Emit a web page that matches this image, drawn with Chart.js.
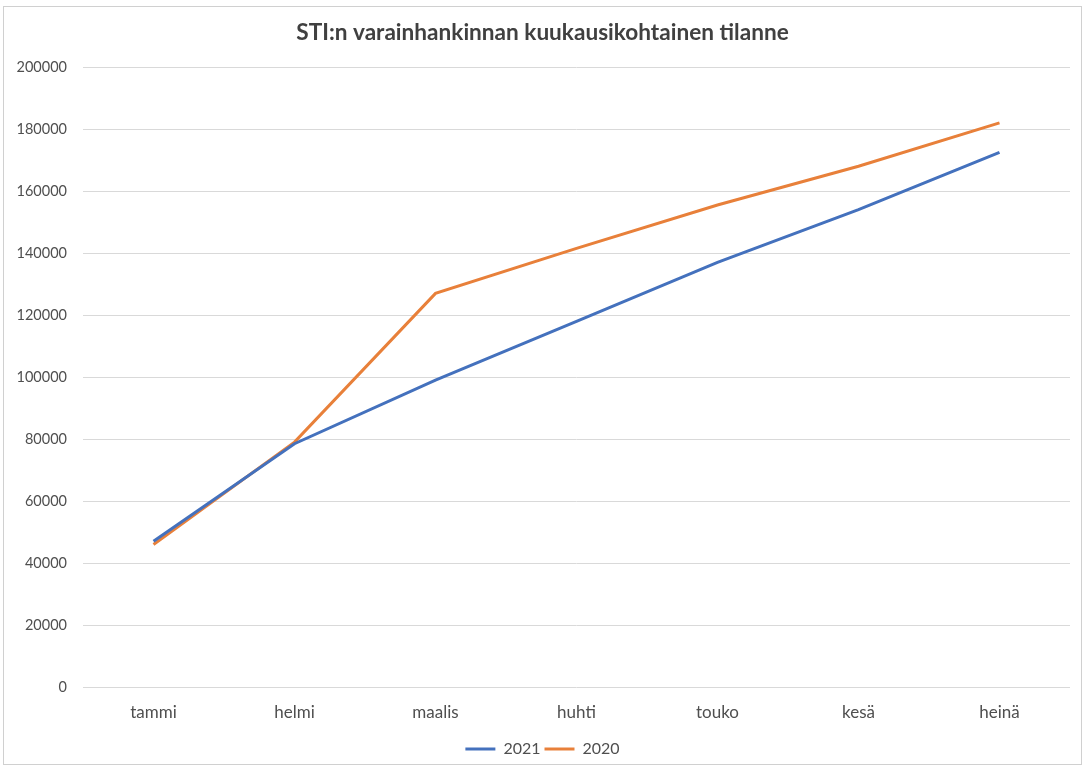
<!DOCTYPE html>
<html>
<head>
<meta charset="utf-8">
<script src="https://cdn.jsdelivr.net/npm/chart.js@4"></script>
<style>
  html, body { margin: 0; padding: 0; background: #fff; }
  #wrap { position: absolute; left: 3px; top: 6px; width: 1079px; height: 759px; border: 1px solid #d0d0d0; box-sizing: border-box; overflow: hidden; }
  canvas { display: block; }
</style>
</head>
<body>
<div id="wrap"><canvas id="c" width="1077" height="757"></canvas></div>
<script>
const categories = ["tammi", "helmi", "maalis", "huhti", "touko", "kesä", "heinä"];
const series2021 = [47000, 78500, 99000, 118000, 137000, 154000, 172500];
const series2020 = [46000, 79000, 127000, 141500, 155500, 168000, 182000];
const yTicks = [0, 20000, 40000, 60000, 80000, 100000, 120000, 140000, 160000, 180000, 200000];
const titleText = "STI:n varainhankinnan kuukausikohtainen tilanne";

const textColor = "#4f4f4f";
const font = "Lato, 'Open Sans', sans-serif";

new Chart(document.getElementById("c"), {
  type: "line",
  data: {
    labels: categories,
    datasets: [
      { label: "2021", data: series2021, borderColor: "#4471BD", backgroundColor: "#4471BD", borderWidth: 3, pointRadius: 0, tension: 0 },
      { label: "2020", data: series2020, borderColor: "#E8803A", backgroundColor: "#E8803A", borderWidth: 3, pointRadius: 0, tension: 0 }
    ]
  },
  options: {
    responsive: false,
    animation: false,
    layout: { padding: { left: 0, right: 0, top: 0, bottom: -3 } },
    plugins: {
      title: { display: true, text: titleText, color: "#404040", font: { family: font, size: 22.6, weight: "bold" }, padding: { top: 12, bottom: 21 } },
      legend: {
        position: "bottom",
        labels: { color: textColor, font: { family: font, size: 16 }, usePointStyle: true, pointStyle: "line", pointStyleWidth: 30, boxHeight: 15, padding: 4 }
      },
      tooltip: { enabled: false }
    },
    scales: {
      x: {
        offset: true,
        afterFit: (s) => { s.height = 50; },
        grid: { display: false, drawTicks: false },
        border: { display: false },
        ticks: { color: textColor, font: { family: font, size: 17 }, padding: 15 }
      },
      y: {
        min: 0, max: 200000,
        afterBuildTicks: (s) => { s.ticks = yTicks.map(v => ({ value: v })); },
        afterFit: (s) => { s.width = 79; },
        grid: { color: "#d9d9d9", lineWidth: 1, drawTicks: false },
        border: { display: false },
        ticks: { color: textColor, font: { family: font, size: 14.5 }, padding: 16, callback: (v) => String(v) }
      },
      spacer: {
        type: "linear",
        position: "right",
        display: true,
        afterFit: (s) => { s.width = 11; },
        grid: { display: false, drawTicks: false },
        border: { display: false },
        ticks: { display: false }
      }
    }
  }
});
</script>
</body>
</html>
